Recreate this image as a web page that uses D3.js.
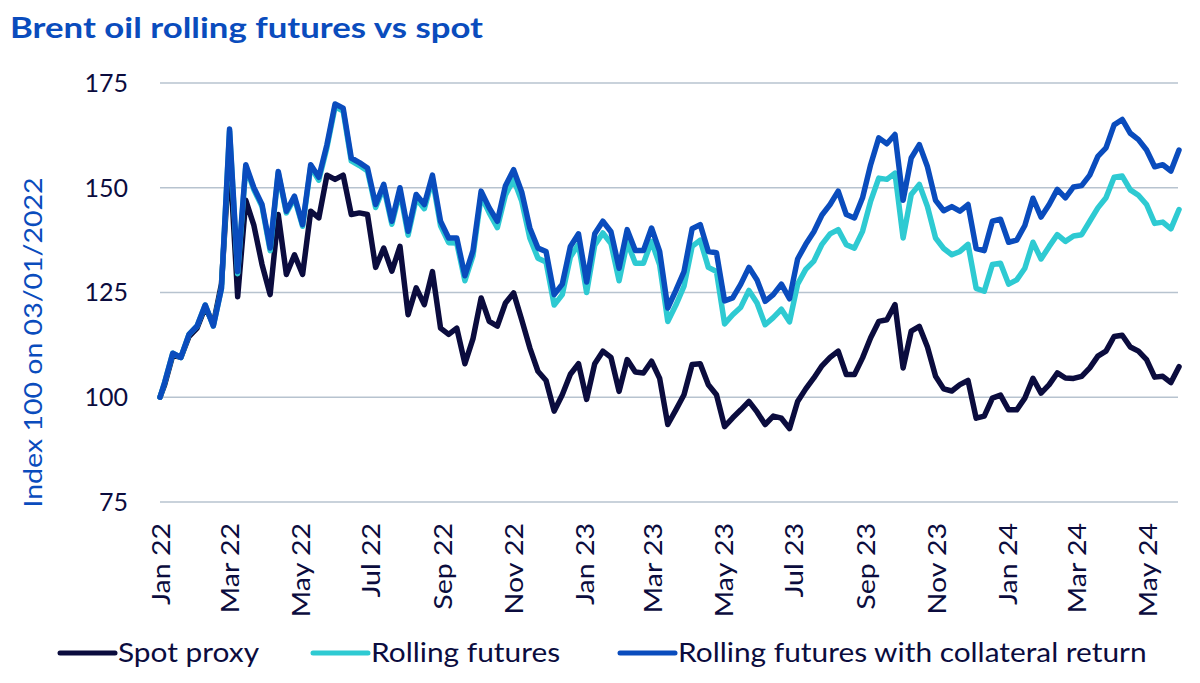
<!DOCTYPE html>
<html lang="en">

<head>
  <meta charset="UTF-8">
  <script src="https://cdn.jsdelivr.net/npm/d3@7"></script>
  <title>Brent oil rolling futures vs spot</title>
  <style>
    body { margin: 0; background: #fff; }
    text { font-family: Lato, "Noto Sans", sans-serif; }
  </style>
</head>

<body>
  <svg width="1200" height="683"></svg>
  <script>
    // first point is the index base (Mon 3 Jan 2022), then weekly Friday closes to 31 May 2024
    var baseDate = "2022-01-03";
    var firstFriday = "2022-01-07";
    var lastFriday = "2024-05-31";

    var spotProxy = [100, 103, 110, 109.5, 114.5, 116.5, 121.5, 117.5, 127, 158,
      124, 147, 141, 131.7, 124.5, 143.6, 129.3, 134, 129.3, 144.4,
      142.8, 153, 152, 153, 143.6, 144, 143.6, 131, 135.6, 130.1,
      136, 119.7, 126.1, 122.1, 130, 116.5, 115, 116.5, 108, 114,
      123.7, 118.1, 117, 122.5, 124.9, 118.5, 111.8, 106.2, 104, 96.7,
      100.6, 105.5, 108, 99.5, 108, 111, 109.5, 101.4, 109, 106,
      105.8, 108.6, 104.5, 93.5, 97, 100.6, 107.8, 108, 103, 100.6,
      93, 95.1, 97, 99, 96.5, 93.5, 95.5, 95, 92.5, 99,
      102, 104.6, 107.5, 109.5, 111, 105.4, 105.4, 109.4, 114.2, 118.1,
      118.5, 122.1, 107, 115.8, 116.9, 112, 105, 102, 101.5, 103,
      104, 95, 95.5, 99.8, 100.5, 97, 97, 99.8, 104.5, 101,
      103, 105.8, 104.6, 104.5, 105, 107, 109.8, 111, 114.5, 114.8,
      112, 111, 109, 104.8, 105, 103.5, 107.3];

    var rollingFutures = [100, 103.5, 110.5, 109.5, 115, 117, 122, 117, 126, 163.5,
      129.5, 155, 149.5, 145.5, 135, 153.5, 144, 147.5, 140.8, 155,
      151.8, 159.6, 169.3, 168.3, 156.4, 155.3, 154, 145.3, 150.1, 141.3,
      149.1, 138.7, 147.4, 145, 152, 140.9, 136.9, 136.8, 127.8, 133.8,
      148, 144, 140.5, 148.3, 152, 146.8, 138, 133.2, 132.3, 122,
      124.5, 133.5, 136.5, 125, 136.3, 139.2, 136.7, 127.8, 137, 132,
      132, 137.2, 131.6, 118.1, 122, 126.5, 136, 137.5, 131, 130,
      117.5, 119.7, 121.5, 125.5, 122.5, 117.3, 119, 121, 118, 127,
      130.5, 132.5, 136.5, 139, 140, 136.4, 135.6, 139.6, 146.8, 152.3,
      152, 153.5, 138, 148.4, 150.8, 145.5, 138, 135.5, 134, 134.8,
      136.5, 126, 125.3, 131.7, 132, 127, 128, 130.8, 137, 133,
      136, 138.8, 137.2, 138.5, 138.8, 142, 145.2, 147.6, 152.5, 152.8,
      149.5, 148.2, 146, 141.5, 141.8, 140.2, 144.8];

    var withCollateral = [100, 103.5, 110.5, 109.5, 115, 117, 122, 117, 126, 164,
      130, 155.5, 150, 146, 135.6, 153.9, 144.4, 148, 141.2, 155.5,
      152.5, 160.3, 170, 169, 157.1, 156, 154.7, 146, 150.8, 142,
      150, 139.6, 148.4, 146, 153, 142, 138, 138, 129, 135,
      149.2, 145.2, 142, 150.5, 154.3, 149, 140.4, 135.6, 134.8, 124.5,
      127, 136, 139, 127.5, 139, 142, 139.5, 130.8, 140, 135,
      135, 140.4, 134.8, 121.3, 125.5, 130, 140.2, 141.2, 134.8, 134.5,
      123, 123.7, 127, 131, 128, 122.9, 124.5, 127, 123.5, 133,
      136.5, 139.5, 143.5, 146, 149.2, 143.6, 142.8, 147.6, 155.5, 161.9,
      160.5, 162.7, 147, 157.1, 160.3, 155, 147, 144.5, 145.5, 144.4,
      146, 135.5, 135, 142, 142.5, 137, 137.5, 141, 147.5, 143,
      146, 149.6, 147.6, 150.2, 150.5, 153, 157.5, 159.5, 165, 166.3,
      163, 161.5, 159, 155, 155.5, 154, 159];

    var seriesNames = ["Spot proxy", "Rolling futures", "Rolling futures with collateral return"];
    var seriesColors = ["#0b0c3e", "#2ecad2", "#0a4cbd"];

    var yTicks = [75, 100, 125, 150, 175];
    var xTicks = ["2022-01-01", "2022-03-01", "2022-05-01", "2022-07-01", "2022-09-01", "2022-11-01",
      "2023-01-01", "2023-03-01", "2023-05-01", "2023-07-01", "2023-09-01", "2023-11-01",
      "2024-01-01", "2024-03-01", "2024-05-01"];

    var parse = d3.timeParse("%Y-%m-%d");
    var dates = [parse(baseDate)].concat(
      d3.timeFriday.range(parse(firstFriday), d3.timeDay.offset(parse(lastFriday), 1)));

    var svg = d3.select("svg");
    var marge = { left: 160, right: 1178, top: 83, bottom: 502 };
    var stretch = 1.14; // the original face is wider than Lato

    var x = d3.scaleTime()
      .domain([dates[0], dates[dates.length - 1]])
      .range([marge.left, marge.left + 879 * 1.1593]);
    var y = d3.scaleLinear().domain([75, 175]).range([marge.bottom, marge.top]);

    // title
    svg.append("text")
      .attr("x", 10).attr("y", 38)
      .attr("font-size", 28).attr("font-weight", "bold")
      .attr("fill", "#0a4cbd")
      .attr("textLength", 473).attr("lengthAdjust", "spacingAndGlyphs")
      .text("Brent oil rolling futures vs spot");

    // gridlines + y tick labels
    svg.append("g").selectAll("line")
      .data(yTicks).enter().append("line")
      .attr("x1", marge.left).attr("x2", marge.right)
      .attr("y1", d => y(d)).attr("y2", d => y(d))
      .attr("stroke", "#b7c3cf").attr("stroke-width", 1.5);

    svg.append("g").selectAll("text")
      .data(yTicks).enter().append("text")
      .attr("x", 128).attr("y", d => y(d))
      .attr("dy", "0.35em")
      .attr("text-anchor", "end")
      .attr("font-size", 25).attr("fill", "#0b0c3e")
      .text(d => d);

    // y axis title
    svg.append("text")
      .attr("transform", "translate(41.5,342.5) rotate(-90) scale(" + stretch + ",1)")
      .attr("text-anchor", "middle")
      .attr("font-size", 25).attr("fill", "#0a4cbd")
      .text("Index 100 on 03/01/2022");

    // x tick labels, rotated
    var fmt = d3.timeFormat("%b %y");
    svg.append("g").selectAll("text")
      .data(xTicks.map(parse)).enter().append("text")
      .attr("transform", d => "translate(" + (x(d) + 4) + ",523) rotate(-90) scale(" + stretch + ",1)")
      .attr("dy", "0.35em")
      .attr("text-anchor", "end")
      .attr("font-size", 25).attr("fill", "#0b0c3e")
      .text(d => fmt(d));

    // lines
    var allSeries = [spotProxy, rollingFutures, withCollateral];
    var line = d3.line()
      .x((d, i) => x(dates[i]))
      .y(d => y(d));

    svg.append("g").selectAll("path")
      .data(allSeries).enter().append("path")
      .attr("d", d => line(d))
      .attr("fill", "none")
      .attr("stroke", (d, i) => seriesColors[i])
      .attr("stroke-width", 5.5)
      .attr("stroke-linejoin", "round")
      .attr("stroke-linecap", "round");

    // legend
    var legendX = [60, 313, 620];
    var lg = svg.append("g").selectAll("g")
      .data(seriesNames).enter().append("g")
      .attr("transform", (d, i) => "translate(" + legendX[i] + ",653)");

    lg.append("line")
      .attr("x1", 0).attr("x2", 55)
      .attr("stroke", (d, i) => seriesColors[i])
      .attr("stroke-width", 5)
      .attr("stroke-linecap", "round");

    lg.append("text")
      .attr("transform", "translate(58,9) scale(1.148,1)")
      .attr("font-size", 26).attr("fill", "#0b0c3e")
      .text(d => d);
  </script>

</body>

</html>
